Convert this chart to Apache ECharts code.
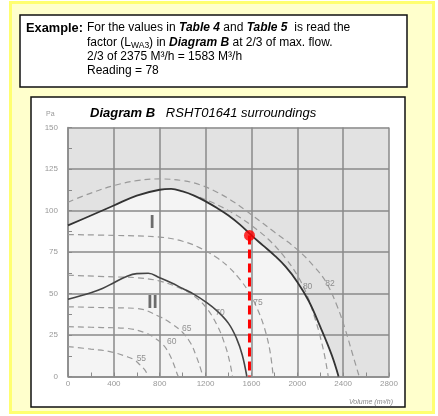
<!DOCTYPE html>
<html><head><meta charset="utf-8">
<script src="https://cdn.jsdelivr.net/npm/echarts@6/dist/echarts.min.js"></script>
<style>html,body{margin:0;padding:0;background:#fff}#c{width:438px;height:416px}</style>
</head><body><div id="c"></div>
<script>
// ---- data ----
const xMin = 0, xMax = 2800, xStep = 400;
const yMin = 0, yMax = 150, yStep = 25;

// fan curves (solid)
const curveI  = [[0,91],[200,97],[400,103],[600,109],[800,112.5],[900,113],[1000,111.5],[1100,109],[1200,105.5],[1300,101.5],[1400,97],[1500,91.5],[1600,85],[1700,79],[1800,73],[1900,66],[2000,57],[2100,45.5],[2200,30],[2300,13],[2360,0]];
const curveII = [[0,46.5],[200,50.5],[300,53],[400,56.5],[500,60],[600,62],[700,62.2],[800,59.5],[900,56.5],[1000,53],[1100,49.5],[1200,45],[1300,39.5],[1400,32],[1470,23],[1520,13],[1560,0]];

// sound power iso-lines (dashed)
const iso55 = [[0,18],[200,16.5],[366,15],[512,12],[580,10],[628,7],[670,4],[700,0]];
const iso60 = [[0,30],[300,29.5],[512,29],[686,26],[760,23],[831,19],[880,14],[919,8],[950,2],[962,0]];
const iso65 = [[0,42],[300,41.5],[600,41],[800,36],[900,32],[1000,26.5],[1070,20],[1120,12],[1160,4],[1175,0]];
const iso70 = [[0,61],[400,60],[600,59.5],[800,57.5],[1000,52.5],[1100,48.5],[1200,42],[1300,31],[1370,19],[1410,9],[1435,0]];
const iso75 = [[0,85.5],[400,85],[800,84],[1000,81.5],[1150,77.5],[1300,71.5],[1400,66],[1500,58.5],[1580,50.5],[1650,41],[1710,30],[1760,16],[1790,0]];
const iso80 = [[1150,108],[1300,103.5],[1450,98],[1600,91],[1750,82.5],[1900,71],[2000,61],[2080,50],[2150,36],[2200,24],[2240,12],[2270,0]];
const iso82 = [[0,105],[200,110.5],[400,115],[600,118],[800,119],[1000,118],[1150,115.5],[1300,111],[1450,105],[1600,97.5],[1800,87],[2000,76.5],[2150,66],[2250,57],[2350,42],[2420,28],[2480,14],[2540,0]];

const isoLabels   = ['55','60','65','70','75','80','82'];
const isoLabelPts = [[640,11],[904,20.8],[1035,28.6],[1325,38.4],[1658,44.3],[2090,54],[2285,56]];

const zoneLabels   = ['I','II'];
const zoneLabelPts = [[735,92.5],[737,44.3]];

const opFlow = 1583, opPressure = 85;

// ---- chart ----
const FONT = 'Liberation Sans, Arial, sans-serif';
const chart = echarts.init(document.getElementById('c'), null, {renderer: 'canvas'});

const dashedCurves = [iso55, iso60, iso65, iso70, iso75, iso80, iso82];
const dashedSeries = dashedCurves.map(d => ({
  type: 'line', data: d, smooth: 0.4, showSymbol: false, silent: true, z: 3,
  lineStyle: {color: '#9a9a9a', width: 1.2, type: [6, 4]}
}));

const axisCommon = {
  axisLine: {show: true, lineStyle: {color: '#8a8a8a', width: 1.5}},
  axisTick: {show: true, inside: true, length: 4, lineStyle: {color: '#8a8a8a'}},
  minorTick: {show: true, splitNumber: 2, length: 4, lineStyle: {color: '#8a8a8a'}},
  splitLine: {show: true, lineStyle: {color: '#8a8a8a', width: 1.5}}
};

const option = {
  animation: false,
  backgroundColor: '#ffffff',
  grid: {left: 68, right: 49, top: 127.5, bottom: 39.5, show: true, backgroundColor: '#e2e2e2', borderWidth: 0, outerBoundsMode: 'none', z: 0},
  xAxis: Object.assign({
    type: 'value', min: xMin, max: xMax, interval: xStep, z: 1.5,
    axisLabel: {color: '#999', fontSize: 8, fontFamily: FONT, margin: 3, formatter: v => String(v)}
  }, axisCommon),
  yAxis: Object.assign({
    type: 'value', min: yMin, max: yMax, interval: yStep, z: 1.5,
    axisLabel: {color: '#999', fontSize: 8, fontFamily: FONT, margin: 10, formatter: v => String(v)}
  }, axisCommon),
  series: [
    // light area under curve I
    {type: 'line', data: curveI, smooth: 0.4, showSymbol: false, silent: true, z: 1,
     lineStyle: {width: 0}, areaStyle: {color: '#f4f4f4', opacity: 1, origin: 'start'}},
    ...dashedSeries,
    {type: 'line', data: curveI, smooth: 0.4, showSymbol: false, silent: true, z: 4,
     lineStyle: {color: '#333', width: 1.8}},
    {type: 'line', data: curveII, smooth: 0.4, showSymbol: false, silent: true, z: 4,
     lineStyle: {color: '#444', width: 1.6}},
    // iso labels
    {type: 'scatter', symbolSize: 0, silent: true, z: 5,
     data: isoLabelPts.map((p, i) => ({value: p, name: isoLabels[i]})),
     label: {show: true, position: 'inside', formatter: p => p.name, color: '#777', fontSize: 8.5, fontFamily: FONT}},
    // zone labels
    {type: 'scatter', symbolSize: 0, silent: true, z: 5,
     data: zoneLabelPts.map((p, i) => ({value: p, name: zoneLabels[i]})),
     label: {show: true, position: 'inside', formatter: p => p.name, color: '#4a4a4a', fontSize: 19, fontWeight: 'bold', fontFamily: FONT}},
    // operating point drop line
    {type: 'line', data: [[opFlow, opPressure], [opFlow, 0]], showSymbol: false, silent: true, z: 6,
     lineStyle: {color: '#ff0000', width: 3, type: [9, 5]}},
    {type: 'scatter', data: [[opFlow, opPressure]], symbolSize: 11, silent: true, z: 7,
     itemStyle: {color: '#ff0000'}}
  ],
  graphic: [
    {type: 'rect', z: -10, shape: {x: 10.5, y: 2.5, width: 423, height: 410},
     style: {fill: '#ffffcc', stroke: '#ffff70', lineWidth: 3}},
    {type: 'rect', z: -9, shape: {x: 20, y: 15, width: 387, height: 72},
     style: {fill: '#ffffff', stroke: '#111', lineWidth: 1.5}},
    {type: 'rect', z: -9, shape: {x: 31, y: 97, width: 374, height: 310},
     style: {fill: '#ffffff', stroke: '#111', lineWidth: 1.5}},
    {type: 'text', z: 10, x: 26, y: 28,
     style: {text: 'Example:', font: 'bold 12.8px ' + FONT, fill: '#000', textVerticalAlign: 'middle'}},
    {type: 'text', z: 10, x: 87, y: 28,
     style: {text: 'For the values in {bi|Table 4} and {bi|Table 5}  is read the', font: '12px ' + FONT, fill: '#000', textVerticalAlign: 'middle',
       rich: {bi: {fontWeight: 'bold', fontStyle: 'italic', fontSize: 12, fontFamily: FONT}}}},
    {type: 'text', z: 10, x: 87, y: 42.5,
     style: {text: '{n|factor (L}{s|WA3}{n|) in }{bi|Diagram B}{n| at 2/3 of max. flow.}', font: '12px ' + FONT, fill: '#000', textVerticalAlign: 'middle',
       rich: {
         n: {fontSize: 12, fontFamily: FONT, lineHeight: 16, verticalAlign: 'middle'},
         bi: {fontWeight: 'bold', fontStyle: 'italic', fontSize: 12, fontFamily: FONT, lineHeight: 16, verticalAlign: 'middle'},
         s: {fontSize: 8.5, fontFamily: FONT, lineHeight: 9, verticalAlign: 'bottom'}
       }}},
    {type: 'text', z: 10, x: 87, y: 56.5,
     style: {text: '2/3 of 2375 M³/h = 1583 M³/h', font: '12px ' + FONT, fill: '#000', textVerticalAlign: 'middle'}},
    {type: 'text', z: 10, x: 87, y: 70.5,
     style: {text: 'Reading = 78', font: '12px ' + FONT, fill: '#000', textVerticalAlign: 'middle'}},
    {type: 'text', z: 10, x: 90, y: 113,
     style: {text: '{b|Diagram B}   {i|RSHT01641 surroundings}', font: '13px ' + FONT, fill: '#000', textVerticalAlign: 'middle',
       rich: {b: {fontWeight: 'bold', fontStyle: 'italic', fontSize: 13, fontFamily: FONT},
              i: {fontStyle: 'italic', fontSize: 13, fontFamily: FONT}}}},
    {type: 'text', z: 10, x: 46, y: 114,
     style: {text: 'Pa', font: '7px ' + FONT, fill: '#999', textVerticalAlign: 'middle'}},
    {type: 'text', z: 10, x: 393, y: 402,
     style: {text: 'Volume (m³/h)', font: 'italic 7px ' + FONT, fill: '#888', textAlign: 'right', textVerticalAlign: 'middle'}}
  ]
};
chart.setOption(option);
</script>
</body></html>
